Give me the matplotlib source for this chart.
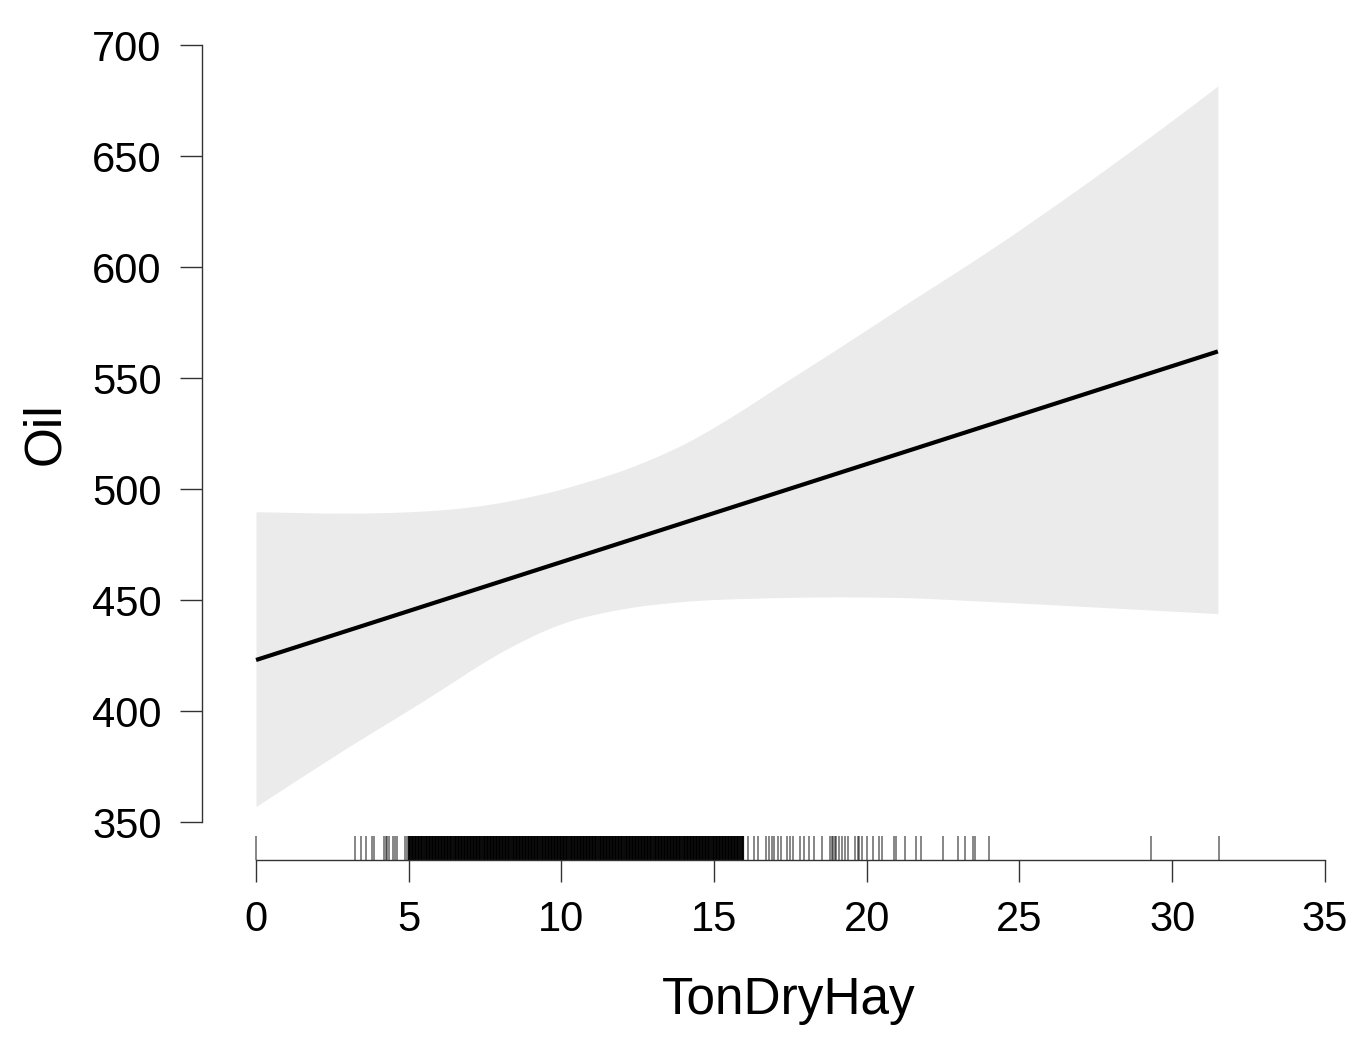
import matplotlib
matplotlib.use("Agg")
import matplotlib.pyplot as plt
import numpy as np

plt.rcParams['font.family'] = ['Liberation Sans', 'DejaVu Sans']

# Fitted line
fit_x = [0.0, 31.5]
fit_y = [423.0, 562.0]

# Confidence band (upper and lower edges)
upper_x = [0.0, 3.3, 6.4, 8.6, 10.8, 13.0, 15.0, 16.8, 19.1, 21.3, 23.6, 25.9, 28.1, 30.4, 31.5]
upper_y = [489.8, 488.9, 490.5, 495.0, 502.7, 513.1, 527.0, 543.7, 563.6, 583.6, 603.5, 625.1, 646.7, 670.0, 681.6]
lower_x = [0.0, 2.7, 5.7, 7.9, 10.0, 12.2, 14.4, 16.6, 18.8, 21.3, 24.7, 28.1, 31.5]
lower_y = [357.0, 381.1, 406.4, 426.1, 440.2, 446.9, 450.0, 451.0, 451.5, 451.2, 448.9, 446.4, 443.9]

# Rug observations (TonDryHay)
rug_sparse = [0.0, 3.24, 3.43, 3.6, 3.8, 3.85, 4.2, 4.25, 4.3, 4.35, 4.5, 4.55, 4.6, 4.88, 4.95,
              16.1, 16.3, 16.45, 16.7, 16.8, 16.9, 16.95, 17.1, 17.2, 17.4, 17.5, 17.6, 17.8,
              17.93, 18.1, 18.26, 18.55, 18.8, 18.85, 18.9, 18.95, 19.0, 19.1, 19.2, 19.3, 19.4,
              19.6, 19.7, 19.75, 19.85, 20.0, 20.2, 20.4, 20.5, 20.9, 20.95, 21.24, 21.6, 21.77,
              22.5, 23.0, 23.23, 23.47, 23.56, 24.0, 29.3, 31.53]
rug_dense = [
    5.00, 5.05, 5.10, 5.15, 5.20, 5.25, 5.30, 5.35, 5.40, 5.45, 5.50, 5.55, 5.60, 5.65, 5.70, 5.75,
    5.80, 5.85, 5.90, 5.95, 6.00, 6.05, 6.10, 6.15, 6.20, 6.25, 6.30, 6.35, 6.40, 6.45, 6.50, 6.55,
    6.60, 6.65, 6.70, 6.75, 6.80, 6.85, 6.90, 6.95, 7.00, 7.05, 7.10, 7.15, 7.20, 7.25, 7.30, 7.35,
    7.40, 7.45, 7.50, 7.55, 7.60, 7.65, 7.70, 7.75, 7.80, 7.85, 7.90, 7.95, 8.00, 8.05, 8.10, 8.15,
    8.20, 8.25, 8.30, 8.35, 8.40, 8.45, 8.50, 8.55, 8.60, 8.65, 8.70, 8.75, 8.80, 8.85, 8.90, 8.95,
    9.00, 9.05, 9.10, 9.15, 9.20, 9.25, 9.30, 9.35, 9.40, 9.45, 9.50, 9.55, 9.60, 9.65, 9.70, 9.75,
    9.80, 9.85, 9.90, 9.95, 10.00, 10.05, 10.10, 10.15, 10.20, 10.25, 10.30, 10.35, 10.40, 10.45,
    10.50, 10.55, 10.60, 10.65, 10.70, 10.75, 10.80, 10.85, 10.90, 10.95, 11.00, 11.05, 11.10, 11.15,
    11.20, 11.25, 11.30, 11.35, 11.40, 11.45, 11.50, 11.55, 11.60, 11.65, 11.70, 11.75, 11.80, 11.85,
    11.90, 11.95, 12.00, 12.05, 12.10, 12.15, 12.20, 12.25, 12.30, 12.35, 12.40, 12.45, 12.50, 12.55,
    12.60, 12.65, 12.70, 12.75, 12.80, 12.85, 12.90, 12.95, 13.00, 13.05, 13.10, 13.15, 13.20, 13.25,
    13.30, 13.35, 13.40, 13.45, 13.50, 13.55, 13.60, 13.65, 13.70, 13.75, 13.80, 13.85, 13.90, 13.95,
    14.00, 14.05, 14.10, 14.15, 14.20, 14.25, 14.30, 14.35, 14.40, 14.45, 14.50, 14.55, 14.60, 14.65,
    14.70, 14.75, 14.80, 14.85, 14.90, 14.95, 15.00, 15.05, 15.10, 15.15, 15.20, 15.25, 15.30, 15.35,
    15.40, 15.45, 15.50, 15.55, 15.60, 15.65, 15.70, 15.75, 15.80, 15.85, 15.90, 15.95]

x_ticks = [0, 5, 10, 15, 20, 25, 30, 35]
y_ticks = [350, 400, 450, 500, 550, 600, 650, 700]

fig = plt.figure(figsize=(13.69, 10.37), dpi=100)
ax = fig.add_axes([202/1369, 1 - 860/1037, (1340 - 202)/1369, (860 - 30)/1037])

y_bottom = 332.9
ax.set_xlim(-1.77, 35.5)
ax.set_ylim(y_bottom, 706.8)

# Smooth the band edges (moving average of the read points on a fine grid)
grid = np.linspace(0.0, 31.5, 400)
def smooth(xs, ys, g, k):
    out = np.interp(g, np.asarray(xs), np.asarray(ys))
    # reflect-extrapolate linearly at the ends so the average keeps end slopes
    n = len(out)
    left = 2 * out[0] - out[1:k + 1][::-1]
    right = 2 * out[-1] - out[n - k - 1:n - 1][::-1]
    pad = np.concatenate([left, out, right])
    ker = np.ones(2 * k + 1) / (2 * k + 1)
    return np.convolve(pad, ker, mode='valid')
up = smooth(upper_x, upper_y, grid, 18)
lo = smooth(lower_x, lower_y, grid, 12)
ax.fill_between(grid, lo, up, color='#ebebeb', linewidth=0, zorder=1)
ax.plot(fit_x, fit_y, color='black', linewidth=3.0, solid_capstyle='butt', zorder=3)

rug_top = 343.8
ax.vlines(rug_sparse, y_bottom, rug_top, color='black', alpha=0.6, linewidth=1.1, zorder=2)
ax.vlines(rug_dense, y_bottom, rug_top, color='black', alpha=0.95, linewidth=1.6, zorder=2)

for s in ['top', 'right']:
    ax.spines[s].set_visible(False)
ax.spines['left'].set_bounds(350, 700)
ax.spines['bottom'].set_bounds(0, 35)
for s in ['left', 'bottom']:
    ax.spines[s].set_linewidth(1.0)
    ax.spines[s].set_color('#333333')

ax.set_xticks(x_ticks)
ax.set_yticks(y_ticks)
ax.tick_params(axis='both', length=16, width=1.0, color='#333333', labelsize=30, pad=13)

ax.set_xlabel('TonDryHay', fontsize=37)
ax.set_ylabel('Oil', fontsize=37)
ax.xaxis.set_label_coords((789 - 202) / 1138, (860 - 976) / 830)
ax.yaxis.set_label_coords((70 - 202) / 1138, (860 - 434) / 830)

fig.savefig('out.png', dpi=100, facecolor='white')
